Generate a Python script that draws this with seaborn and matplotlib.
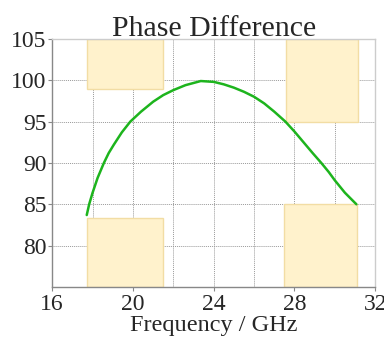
import matplotlib
matplotlib.use("Agg")
import matplotlib.pyplot as plt
import seaborn as sns
import pandas as pd
from matplotlib.patches import Rectangle
from matplotlib.ticker import MultipleLocator

freq = [17.71, 17.83, 18.0, 18.25, 18.56, 18.8, 19.05, 19.45, 19.87, 20.4, 21.0, 21.5, 22.0, 22.6,
        23.36, 24.0, 24.5, 25.0, 25.5, 26.0, 26.5, 27.0, 27.55, 28.0, 28.45, 28.9, 29.33, 29.7,
        30.0, 30.5, 31.07]
phase = [83.7, 85.0, 86.4, 88.2, 90.0, 91.2, 92.2, 93.7, 95.0, 96.2, 97.4, 98.2, 98.8, 99.4,
         99.9, 99.8, 99.5, 99.1, 98.6, 98.0, 97.2, 96.2, 95.0, 93.8, 92.5, 91.2, 90.0, 88.9,
         87.9, 86.4, 85.0]

# mask boxes: x0, x1, y0, y1
box_x0 = [17.7, 27.6, 17.7, 27.5]
box_x1 = [21.5, 31.15, 21.5, 31.1]
box_y0 = [98.9, 95.0, 75.0, 75.0]
box_y1 = [105.0, 105.0, 83.4, 85.0]

sns.set_style("white")
plt.rcParams['font.family'] = ['Liberation Serif', 'DejaVu Serif']

fig = plt.figure(figsize=(3.84, 3.5), dpi=100)
ax = fig.add_axes([0.136, 0.18, 0.841, 0.709])

for x0, x1, y0, y1 in zip(box_x0, box_x1, box_y0, box_y1):
    ax.add_patch(Rectangle((x0, y0), x1 - x0, y1 - y0, facecolor="#FFF2CC",
                           edgecolor="#F2DDA4", linewidth=1, zorder=1))

df = pd.DataFrame({"freq": freq, "phase": phase})
sns.lineplot(data=df, x="freq", y="phase", color="#1DB41D", linewidth=1.8, ax=ax, zorder=3)

ax.set_xlim(16, 32)
ax.set_ylim(75, 105)
ax.xaxis.set_major_locator(MultipleLocator(4))
ax.xaxis.set_minor_locator(MultipleLocator(2))
ax.set_yticks([80, 85, 90, 95, 100, 105])
ax.grid(which="both", axis="x", color="#9a9a9a", linestyle=(0, (1, 1)), linewidth=0.7, zorder=0)
ax.grid(which="major", axis="y", color="#9a9a9a", linestyle=(0, (1, 1)), linewidth=0.7, zorder=0)
ax.set_axisbelow(True)

for s in ["left", "bottom"]:
    ax.spines[s].set_color("#888888")
    ax.spines[s].set_linewidth(1.0)
for s in ["top", "right"]:
    ax.spines[s].set_color("#CCCCCC")
    ax.spines[s].set_linewidth(1.0)

ax.tick_params(axis="both", which="major", labelsize=17, length=3, color="#888888", pad=1)
ax.tick_params(axis="x", which="major", pad=2)
ax.tick_params(axis="x", which="minor", length=3, color="#888888")
ax.tick_params(axis="x", which="major", bottom=True)
ax.tick_params(axis="y", which="major", left=True)

ax.set_xlabel("Frequency / GHz", fontsize=17.5, labelpad=0)
ax.set_ylabel("")
ax.set_title("Phase Difference", fontsize=21.5, pad=2)

fig.savefig("out.png", dpi=100)
